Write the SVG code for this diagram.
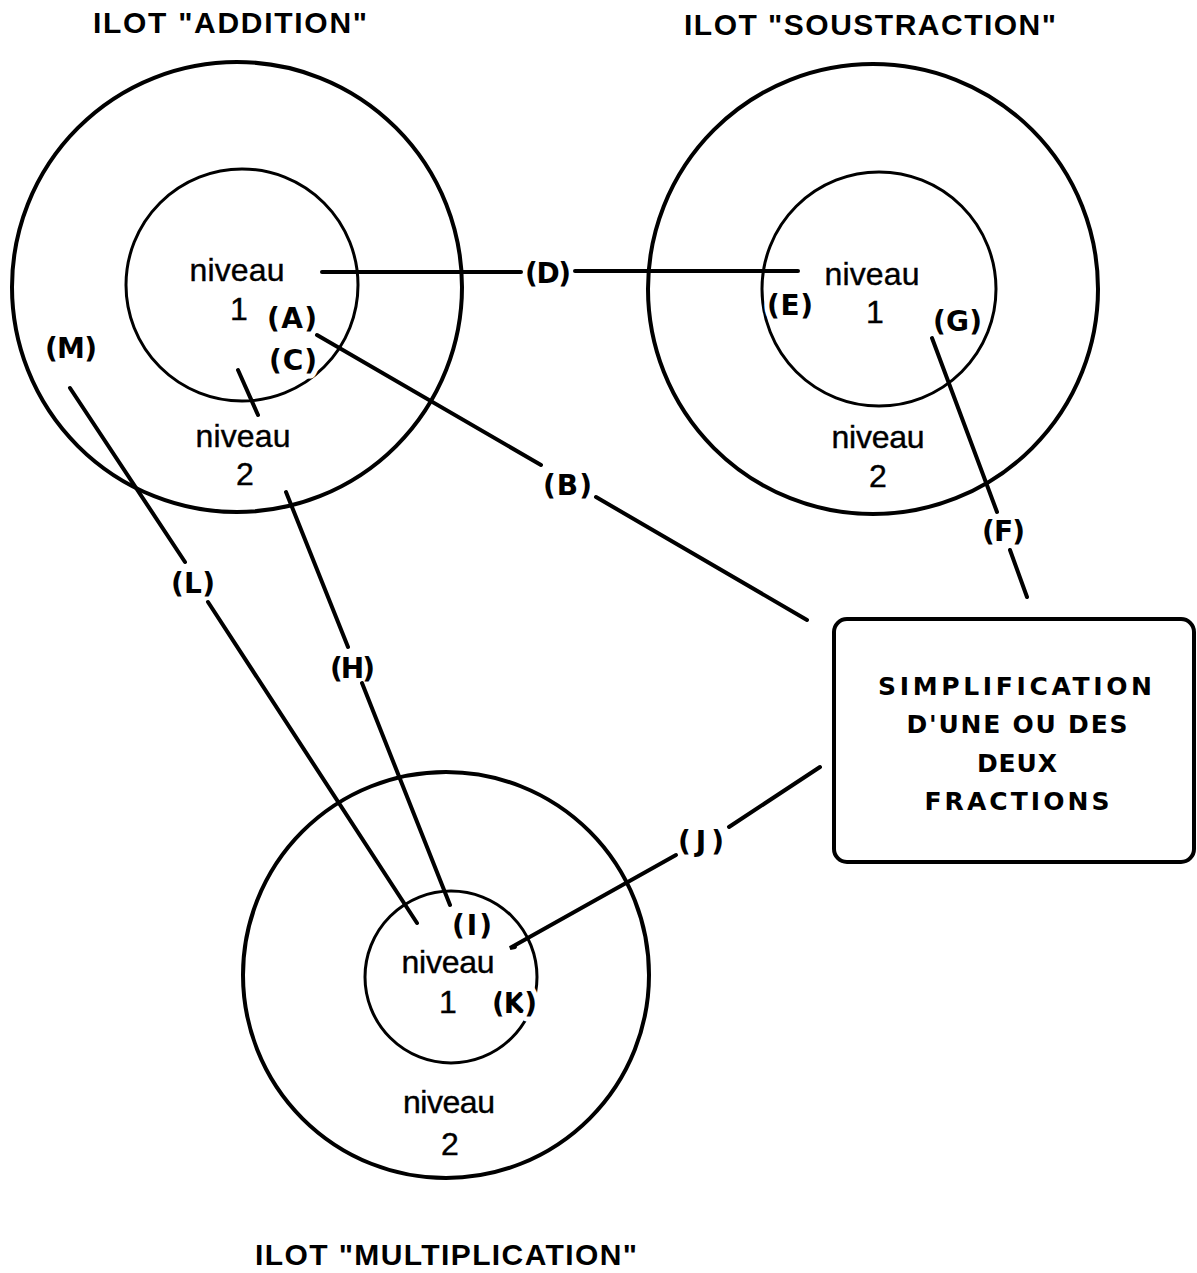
<svg xmlns="http://www.w3.org/2000/svg" width="1197" height="1273" viewBox="0 0 1197 1273">
  <style>
    .title { font-family: "Liberation Sans", Arial, sans-serif; font-weight: bold; font-size: 30px; fill: #000; }
    .lvl { font-family: "Liberation Sans", Arial, sans-serif; font-size: 32px; fill: #000; stroke: #000; stroke-width: 0.4; text-anchor: middle; }
    .tag { font-family: "DejaVu Sans", sans-serif; font-weight: bold; font-size: 28px; fill: #000; }
    .halo { paint-order: stroke; stroke: #fff; stroke-width: 10; stroke-linejoin: round; }
    .box-text { font-family: "DejaVu Sans", sans-serif; font-weight: bold; font-size: 25px; fill: #000; text-anchor: middle; }
    .outer { fill: none; stroke: #000; stroke-width: 4; }
    .inner { fill: none; stroke: #000; stroke-width: 3; }
    .link { fill: none; stroke: #000; stroke-width: 4; stroke-linecap: round; }
  </style>
  <rect width="1197" height="1273" fill="#fff"/>

  <!-- Island: addition -->
  <g id="ilot-addition">
    <text class="title" x="93" y="33" textLength="274">ILOT "ADDITION"</text>
    <circle class="outer" cx="237" cy="287" r="225"/>
    <circle class="inner" cx="242" cy="285" r="116"/>
    <text class="lvl" x="237" y="281" textLength="95">niveau</text>
    <text class="lvl" x="239" y="320">1</text>
    <text class="lvl" x="243" y="447" textLength="95">niveau</text>
    <text class="lvl" x="245" y="485">2</text>
  </g>

  <!-- Island: subtraction -->
  <g id="ilot-soustraction">
    <text class="title" x="684" y="35" textLength="372">ILOT "SOUSTRACTION"</text>
    <circle class="outer" cx="873" cy="289" r="225"/>
    <circle class="inner" cx="879" cy="289" r="117"/>
    <text class="lvl" x="872" y="285" textLength="95">niveau</text>
    <text class="lvl" x="875" y="323">1</text>
    <text class="lvl" x="878" y="448" textLength="93">niveau</text>
    <text class="lvl" x="878" y="487">2</text>
  </g>

  <!-- Island: multiplication -->
  <g id="ilot-multiplication">
    <text class="title" x="255" y="1265" textLength="382">ILOT "MULTIPLICATION"</text>
    <circle class="outer" cx="446" cy="975" r="203"/>
    <circle class="inner" cx="451" cy="977" r="86"/>
    <text class="lvl" x="448" y="973" textLength="93">niveau</text>
    <text class="lvl" x="448" y="1013">1</text>
    <text class="lvl" x="449" y="1113" textLength="92">niveau</text>
    <text class="lvl" x="450" y="1155">2</text>
  </g>

  <!-- Simplification box -->
  <g id="simplification">
    <rect x="834" y="619" width="360" height="243" rx="13" fill="none" stroke="#000" stroke-width="4"/>
    <text class="box-text" x="1015" y="695" textLength="274">SIMPLIFICATION</text>
    <text class="box-text" x="1017" y="733" textLength="221">D'UNE OU DES</text>
    <text class="box-text" x="1017" y="772" textLength="80">DEUX</text>
    <text class="box-text" x="1017" y="810" textLength="185">FRACTIONS</text>
  </g>

  <!-- Transitions between islands and levels -->
  <g id="connectors">
    <!-- (A)-(B): addition level 1 to the box -->
    <line class="link" x1="317" y1="335" x2="541" y2="465"/>
    <line class="link" x1="596" y1="497" x2="807" y2="620"/>
    <!-- (C): addition level 1 to level 2 -->
    <line class="link" x1="238" y1="370" x2="258" y2="415"/>
    <!-- (D)-(E): addition to subtraction -->
    <line class="link" x1="322" y1="272" x2="521" y2="272" stroke-width="4.5"/>
    <line class="link" x1="575" y1="271" x2="798" y2="271" stroke-width="4.5"/>
    <!-- (G)-(F): subtraction level 1 to the box -->
    <line class="link" x1="932" y1="338" x2="997" y2="512" stroke-width="3.5"/>
    <line class="link" x1="1010" y1="550" x2="1027" y2="597"/>
    <!-- (H)-(I): addition level 2 to multiplication level 1 -->
    <line class="link" x1="286" y1="492" x2="348" y2="647" stroke-width="3.5"/>
    <line class="link" x1="362" y1="683" x2="450" y2="905" stroke-width="3.5"/>
    <!-- (J)-(K): box to multiplication level 1 -->
    <line class="link" x1="820" y1="767" x2="729" y2="827"/>
    <polyline class="link" points="676,855 510,948 515,947"/>
    <!-- (M)-(L): addition level 2 to multiplication level 1 -->
    <line class="link" x1="70" y1="388" x2="185" y2="562" stroke-width="3.5"/>
    <line class="link" x1="208" y1="602" x2="417" y2="923" stroke-width="3.5"/>

    <text class="tag" x="267" y="328" textLength="50">(A)</text>
    <text class="tag halo" x="269" y="370" textLength="48">(C)</text>
    <text class="tag" x="45" y="358" textLength="52">(M)</text>
    <text class="tag" x="543" y="495" textLength="49">(B)</text>
    <text class="tag" x="525" y="283" textLength="46">(D)</text>
    <text class="tag halo" x="767" y="315" textLength="46">(E)</text>
    <text class="tag" x="933" y="331" textLength="49">(G)</text>
    <text class="tag" x="982" y="541" textLength="43">(F)</text>
    <text class="tag" x="171" y="593" textLength="44">(L)</text>
    <text class="tag" x="330" y="678" textLength="45">(H)</text>
    <text class="tag" x="678" y="851" textLength="46">(J)</text>
    <text class="tag" x="452" y="935" textLength="40">(I)</text>
    <text class="tag halo" x="492" y="1013" textLength="45">(K)</text>
  </g>
</svg>
